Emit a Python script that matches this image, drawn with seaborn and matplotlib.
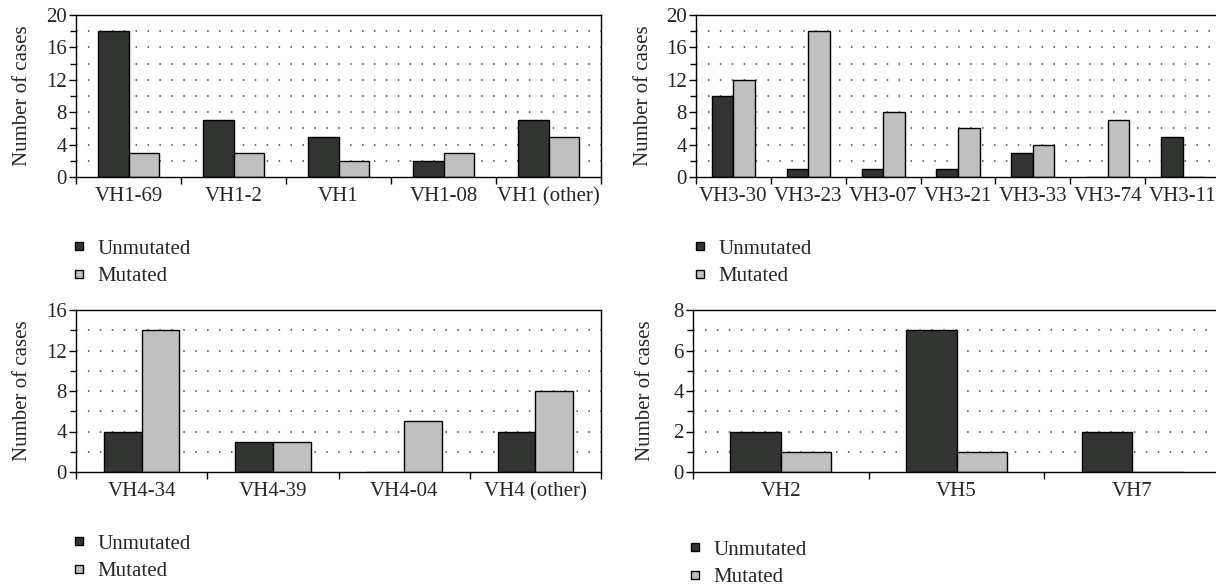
import numpy as np
import pandas as pd
import matplotlib
matplotlib.use("Agg")
import matplotlib.pyplot as plt
import seaborn as sns
from matplotlib.ticker import MultipleLocator, FixedLocator
from matplotlib.lines import Line2D

# ---------------- data ----------------
vh1_genes = ["VH1-69", "VH1-2", "VH1", "VH1-08", "VH1 (other)"]
vh1_unmutated = [18, 7, 5, 2, 7]
vh1_mutated = [3, 3, 2, 3, 5]

vh3_genes = ["VH3-30", "VH3-23", "VH3-07", "VH3-21", "VH3-33", "VH3-74", "VH3-11"]
vh3_unmutated = [10, 1, 1, 1, 3, 0, 5]
vh3_mutated = [12, 18, 8, 6, 4, 7, 0]

vh4_genes = ["VH4-34", "VH4-39", "VH4-04", "VH4 (other)"]
vh4_unmutated = [4, 3, 0, 4]
vh4_mutated = [14, 3, 5, 8]

vhx_genes = ["VH2", "VH5", "VH7"]
vhx_unmutated = [2, 7, 2]
vhx_mutated = [1, 1, 0]

status_labels = ["Unmutated", "Mutated"]
y_label = "Number of cases"

# ---------------- style ----------------
sns.set_style("white")
plt.rcParams["font.family"] = ["Liberation Serif", "DejaVu Serif"]
plt.rcParams["axes.linewidth"] = 1.0

DARK = "#323432"
LIGHT = "#c0c0c0"
palette = {status_labels[0]: DARK, status_labels[1]: LIGHT}

W, H = 1216, 585
fig = plt.figure(figsize=(W / 100, H / 100), dpi=100)


def frac(left, top, right, bottom):
    return [left / W, (H - bottom) / H, (right - left) / W, (bottom - top) / H]


def make_df(genes, unm, mut):
    return pd.DataFrame({
        "gene": list(genes) * 2,
        "status": [status_labels[0]] * len(genes) + [status_labels[1]] * len(genes),
        "cases": list(unm) + list(mut),
    })


panels = [
    (vh1_genes, vh1_unmutated, vh1_mutated, (76, 15, 601, 177), 20, 4, 2, False, (79, 252), 44),
    (vh3_genes, vh3_unmutated, vh3_mutated, (696, 15, 1220, 177), 20, 4, 2, True, (700, 252), 43),
    (vh4_genes, vh4_unmutated, vh4_mutated, (76, 310, 601, 472), 16, 4, 2, False, (79, 547), 44),
    (vhx_genes, vhx_unmutated, vhx_mutated, (693, 310, 1220, 472), 8, 2, 1, True, (695, 553), 38),
]

for genes, unm, mut, box, ymax, major, minor, clipped, legpos, ylab_off in panels:
    ax = fig.add_axes(frac(*box))
    axw = box[2] - box[0]
    df = make_df(genes, unm, mut)
    sns.barplot(data=df, x="gene", y="cases", hue="status", order=genes,
                hue_order=status_labels, palette=palette, width=0.575,
                edgecolor="black", linewidth=1.0, saturation=1, ax=ax,
                errorbar=None, legend=False)
    n = len(genes)
    ax.set_xlim(-0.5, n - 0.5)
    ax.set_ylim(0, ymax)
    ax.yaxis.set_major_locator(MultipleLocator(major))
    ax.yaxis.set_minor_locator(MultipleLocator(minor))
    ax.set_axisbelow(True)
    for yv in np.arange(minor, ymax, minor):
        ax.axhline(yv, color="#444444", lw=1.1, ls=(0, (1, 6.8)), zorder=0)
    ax.tick_params(axis="y", which="major", direction="out", length=5, width=1,
                   labelsize=15, pad=1.5, left=True, color="black")
    ax.tick_params(axis="y", which="minor", direction="out", length=4, width=1,
                   left=True, color="black")
    ax.xaxis.set_minor_locator(FixedLocator(np.arange(-0.5, n, 1.0)))
    ax.tick_params(axis="x", which="major", length=0, labelsize=15, pad=7.5)
    ax.tick_params(axis="x", which="minor", direction="out", length=5, width=1,
                   bottom=True, color="black")
    ax.set_xlabel("")
    ax.set_ylabel(y_label, fontsize=15)
    ax.yaxis.set_label_coords(-ylab_off / axw, 0.5)
    for s in ax.spines.values():
        s.set_visible(True)
        s.set_color("black")
    if clipped:
        ax.spines["right"].set_visible(False)

    handles = [Line2D([], [], marker="s", ls="none", markersize=5.5,
                      markerfacecolor=c, markeredgecolor="black", markeredgewidth=1)
               for c in (DARK, LIGHT)]
    lx, ly = legpos
    fig.legend(handles, status_labels, loc="upper left",
               bbox_to_anchor=((lx - 8) / W, 1 - (ly - 13) / H),
               frameon=False, fontsize=15, handlelength=0.8, handletextpad=0.45,
               labelspacing=0.37, borderpad=0, borderaxespad=0)

fig.savefig("out.png", dpi=100)
